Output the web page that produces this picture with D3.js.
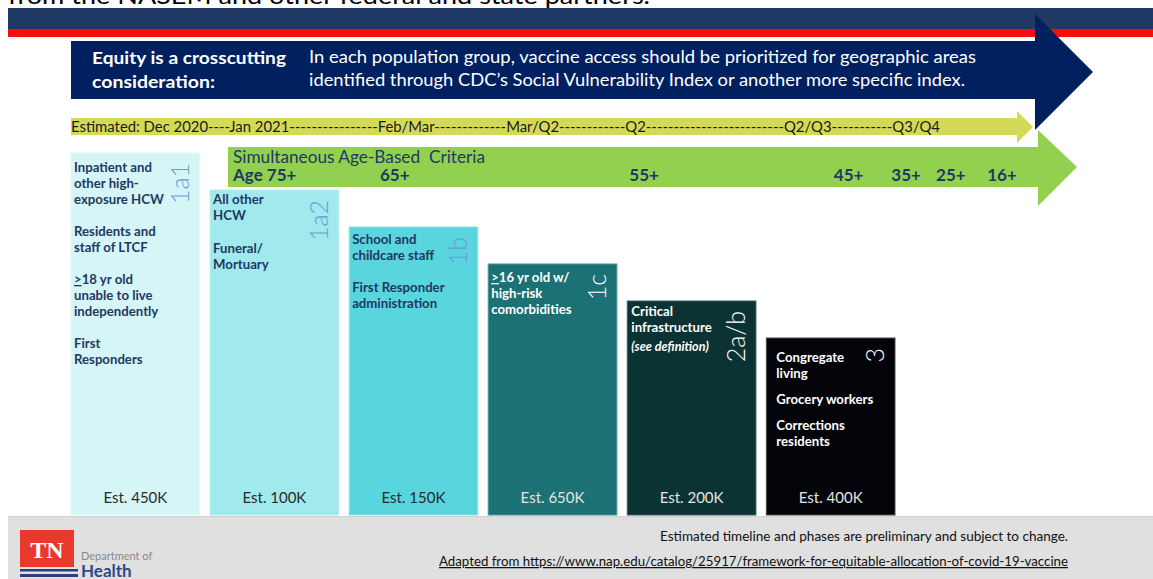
<!DOCTYPE html>
<html>
<head>
<meta charset="utf-8">
<script src="https://cdn.jsdelivr.net/npm/d3@7"></script>
<style>
  body { margin: 0; background: #fff; }
  svg { display: block; font-family: Lato, "Noto Sans", sans-serif; }
</style>
</head>
<body>
<svg id="chart" width="1153" height="579"></svg>
<script>
// phases, left to right, and their estimated sizes (thousands)
var phases = ["1a1", "1a2", "1b", "1c", "2a/b", "3"];
var estimates = [450, 100, 150, 650, 200, 400];
var phaseStep = [0, 1, 2, 3, 4, 5];
var groups = [
  [["Inpatient and", "other high-", "exposure HCW"], ["Residents and", "staff of LTCF"], [">18 yr old", "unable to live", "independently"], ["First", "Responders"]],
  [["All other", "HCW"], ["Funeral/", "Mortuary"]],
  [["School and", "childcare staff"], ["First Responder", "administration"]],
  [[">16 yr old w/", "high-risk", "comorbidities"]],
  [["Critical", "infrastructure", "(see definition)"]],
  [["Congregate", "living"], ["Grocery workers"], ["Corrections", "residents"]]
];
var timeline = ["Dec 2020", "Jan 2021", "Feb/Mar", "Mar/Q2", "Q2", "Q2/Q3", "Q3/Q4"];
var timelineDashes = [4, 16, 13, 12, 25, 11];
var ageLabels = ["Age 75+", "65+", "55+", "45+", "35+", "25+", "16+"];
var ageMonth = [0, 2.3, 6.2, 9.4, 10.3, 11.0, 11.8]; // months after Dec 2020

var svg = d3.select("#chart");

var x = d3.scaleBand().domain(phases).range([71, 895]).paddingInner(0.075);
var yTop = d3.scaleLinear().domain([0, 5]).range([153, 338]);
var month = d3.scaleLinear().domain([0, 12]).range([233, 1000]);
var fill = d3.scaleOrdinal(phases, ["#d5f5f7", "#a0e9ec", "#58d5dd", "#1b7173", "#0c3334", "#020409"]);
var edge = d3.scaleOrdinal(phases, ["#e4f8f9", "#b4eef0", "#8be3e8", "#4c9597", "#3b5a5b", "#4a4a4a"]);
var baseY = 515;

// cut-off line of the slide text above
svg.append("text")
  .attr("x", 8).attr("y", 4)
  .attr("font-size", 24)
  .attr("textLength", 642).attr("lengthAdjust", "spacingAndGlyphs")
  .text("from the NASEM and other federal and state partners.");

svg.append("rect").attr("x", 8).attr("y", 8).attr("width", 1145).attr("height", 21).attr("fill", "#1f3864");
svg.append("rect").attr("x", 8).attr("y", 29).attr("width", 1145).attr("height", 8).attr("fill", "#f70f0f");

var poly = function(pts) { return "M" + pts.join("L") + "Z"; };

// equity banner arrow
svg.append("rect").attr("x", 71).attr("y", 41).attr("width", 964).attr("height", 58).attr("fill", "#002060");
svg.append("path").attr("d", poly([[1035, 14], [1093, 72], [1035, 130]])).attr("fill", "#002060");

var eq = svg.append("g").attr("fill", "#fff");
eq.append("text").attr("x", 92).attr("y", 64).attr("font-size", 17.5).attr("font-weight", "bold")
  .attr("textLength", 194).attr("lengthAdjust", "spacingAndGlyphs").text("Equity is a crosscutting");
eq.append("text").attr("x", 92).attr("y", 88).attr("font-size", 17.5).attr("font-weight", "bold")
  .attr("textLength", 123).attr("lengthAdjust", "spacingAndGlyphs").text("consideration:");
eq.append("text").attr("x", 309).attr("y", 63).attr("font-size", 16.5)
  .attr("textLength", 667).attr("lengthAdjust", "spacingAndGlyphs")
  .text("In each population group, vaccine access should be prioritized for geographic areas");
eq.append("text").attr("x", 309).attr("y", 86).attr("font-size", 16.5)
  .attr("textLength", 656).attr("lengthAdjust", "spacingAndGlyphs")
  .text("identified through CDC\u2019s Social Vulnerability Index or another more specific index.");

// estimated timeline arrow
svg.append("path").attr("d", poly([[71, 118], [1017, 118], [1017, 111], [1033, 127], [1017, 143], [1017, 135], [71, 135]]))
  .attr("fill", "#d4da58");
var tl = "Estimated: " + timeline.map(function(t, i) {
  return t + (i < timelineDashes.length ? d3.range(timelineDashes[i]).map(function() { return "-"; }).join("") : "");
}).join("");
svg.append("text").attr("x", 71).attr("y", 132).attr("font-size", 15.5).attr("fill", "#1a1a1a")
  .attr("textLength", 869).attr("lengthAdjust", "spacingAndGlyphs").text(tl);

// age-based criteria arrow
svg.append("path").attr("d", poly([[228, 147], [1038, 147], [1038, 130], [1077, 167], [1038, 206], [1038, 187], [228, 187]]))
  .attr("fill", "#92d050");
svg.append("text").attr("x", 233).attr("y", 163).attr("font-size", 16.5).attr("fill", "#1f3864")
  .style("white-space", "pre")
  .attr("textLength", 252).attr("lengthAdjust", "spacingAndGlyphs").text("Simultaneous Age-Based  Criteria");
svg.append("g").selectAll("text").data(ageLabels).join("text")
  .attr("x", function(d, i) { return month(ageMonth[i]); })
  .attr("y", 181)
  .attr("font-size", 17).attr("font-weight", "bold").attr("fill", "#1f3864")
  .text(function(d) { return d; });

// phase bars
var bars = svg.append("g").selectAll("g").data(phases).join("g");
bars.append("rect")
  .attr("x", function(d) { return x(d); })
  .attr("y", function(d, i) { return yTop(phaseStep[i]); })
  .attr("width", x.bandwidth())
  .attr("height", function(d, i) { return baseY - yTop(phaseStep[i]); })
  .attr("fill", fill)
  .attr("stroke", edge).attr("stroke-width", 1);

var isDark = function(i) { return i >= 3; };
var textTop = [19, 14, 17, 18, 15, 24];
var inset = [3, 3, 3, 3, 4, 10];
var paraGap = [16, 17, 16, 16, 16, 10];

bars.each(function(p, i) {
  var g = d3.select(this);
  var x0 = x(p) + inset[i];
  var y = yTop(phaseStep[i]) + textTop[i];
  var col = isDark(i) ? "#ffffff" : "#1f3864";
  groups[i].forEach(function(para, k) {
    if (k > 0) y += paraGap[i];
    para.forEach(function(line) {
      var t = g.append("text").attr("x", x0).attr("y", y)
        .attr("font-size", 13.2).attr("font-weight", "bold").attr("fill", col);
      if (line.charAt(0) === "(") t.attr("font-style", "italic").attr("font-size", 12.6);
      if (line.charAt(0) === ">") {
        t.append("tspan").attr("text-decoration", "underline").text(">");
        t.append("tspan").text(line.slice(1));
      } else {
        t.text(line);
      }
      y += (i === 4 && line === "infrastructure") ? 19 : 16;
    });
  });

  // rotated phase name
  var lx = x(p) + x.bandwidth() - 11, ly = yTop(phaseStep[i]) + 10;
  g.append("text")
    .attr("transform", "translate(" + lx + "," + ly + ") rotate(-90)")
    .attr("text-anchor", "end")
    .attr("font-size", 25).attr("font-weight", 300)
    .attr("fill", isDark(i) ? "#ffffff" : "#6b9bd8")
    .text(p);

  g.append("text")
    .attr("x", x(p) + x.bandwidth() / 2).attr("y", 503)
    .attr("text-anchor", "middle").attr("font-size", 15)
    .attr("fill", isDark(i) ? "#e4e4e4" : "#2a2a2a")
    .text("Est. " + estimates[i] + "K");
});

// footer
svg.append("rect").attr("x", 8).attr("y", 517).attr("width", 1145).attr("height", 62).attr("fill", "#e0e0e0");
svg.append("rect").attr("x", 8).attr("y", 516).attr("width", 1145).attr("height", 1).attr("fill", "#d0d0d0");

var logo = svg.append("g");
logo.append("rect").attr("x", 20).attr("y", 530).attr("width", 54).attr("height", 37).attr("fill", "#e8392a");
logo.append("text").attr("x", 47).attr("y", 558).attr("text-anchor", "middle")
  .attr("font-family", "'Liberation Serif', 'DejaVu Serif', serif").attr("font-weight", "bold")
  .attr("font-size", 24).attr("fill", "#fff").text("TN");
logo.append("rect").attr("x", 20).attr("y", 569).attr("width", 58).attr("height", 2.5).attr("fill", "#2b3f7c");
logo.append("rect").attr("x", 20).attr("y", 574).attr("width", 58).attr("height", 3).attr("fill", "#2b3f7c");
logo.append("text").attr("x", 81).attr("y", 560).attr("font-size", 11).attr("fill", "#8a8a8a").text("Department of");
logo.append("text").attr("x", 81).attr("y", 577).attr("font-size", 17).attr("font-weight", "bold")
  .attr("fill", "#2b4a8a").text("Health");

svg.append("text").attr("x", 1068).attr("y", 541).attr("text-anchor", "end")
  .attr("font-family", "'Liberation Sans Narrow', Lato, sans-serif").attr("font-size", 12.5).attr("fill", "#111")
  .attr("textLength", 408).attr("lengthAdjust", "spacingAndGlyphs")
  .text("Estimated timeline and phases are preliminary and subject to change.");
svg.append("text").attr("x", 1068).attr("y", 566).attr("text-anchor", "end")
  .attr("font-family", "'Liberation Sans Narrow', Lato, sans-serif").attr("font-size", 12.5).attr("fill", "#111")
  .attr("text-decoration", "underline")
  .attr("textLength", 629).attr("lengthAdjust", "spacingAndGlyphs")
  .text("Adapted from https://www.nap.edu/catalog/25917/framework-for-equitable-allocation-of-covid-19-vaccine");
</script>
</body>
</html>
